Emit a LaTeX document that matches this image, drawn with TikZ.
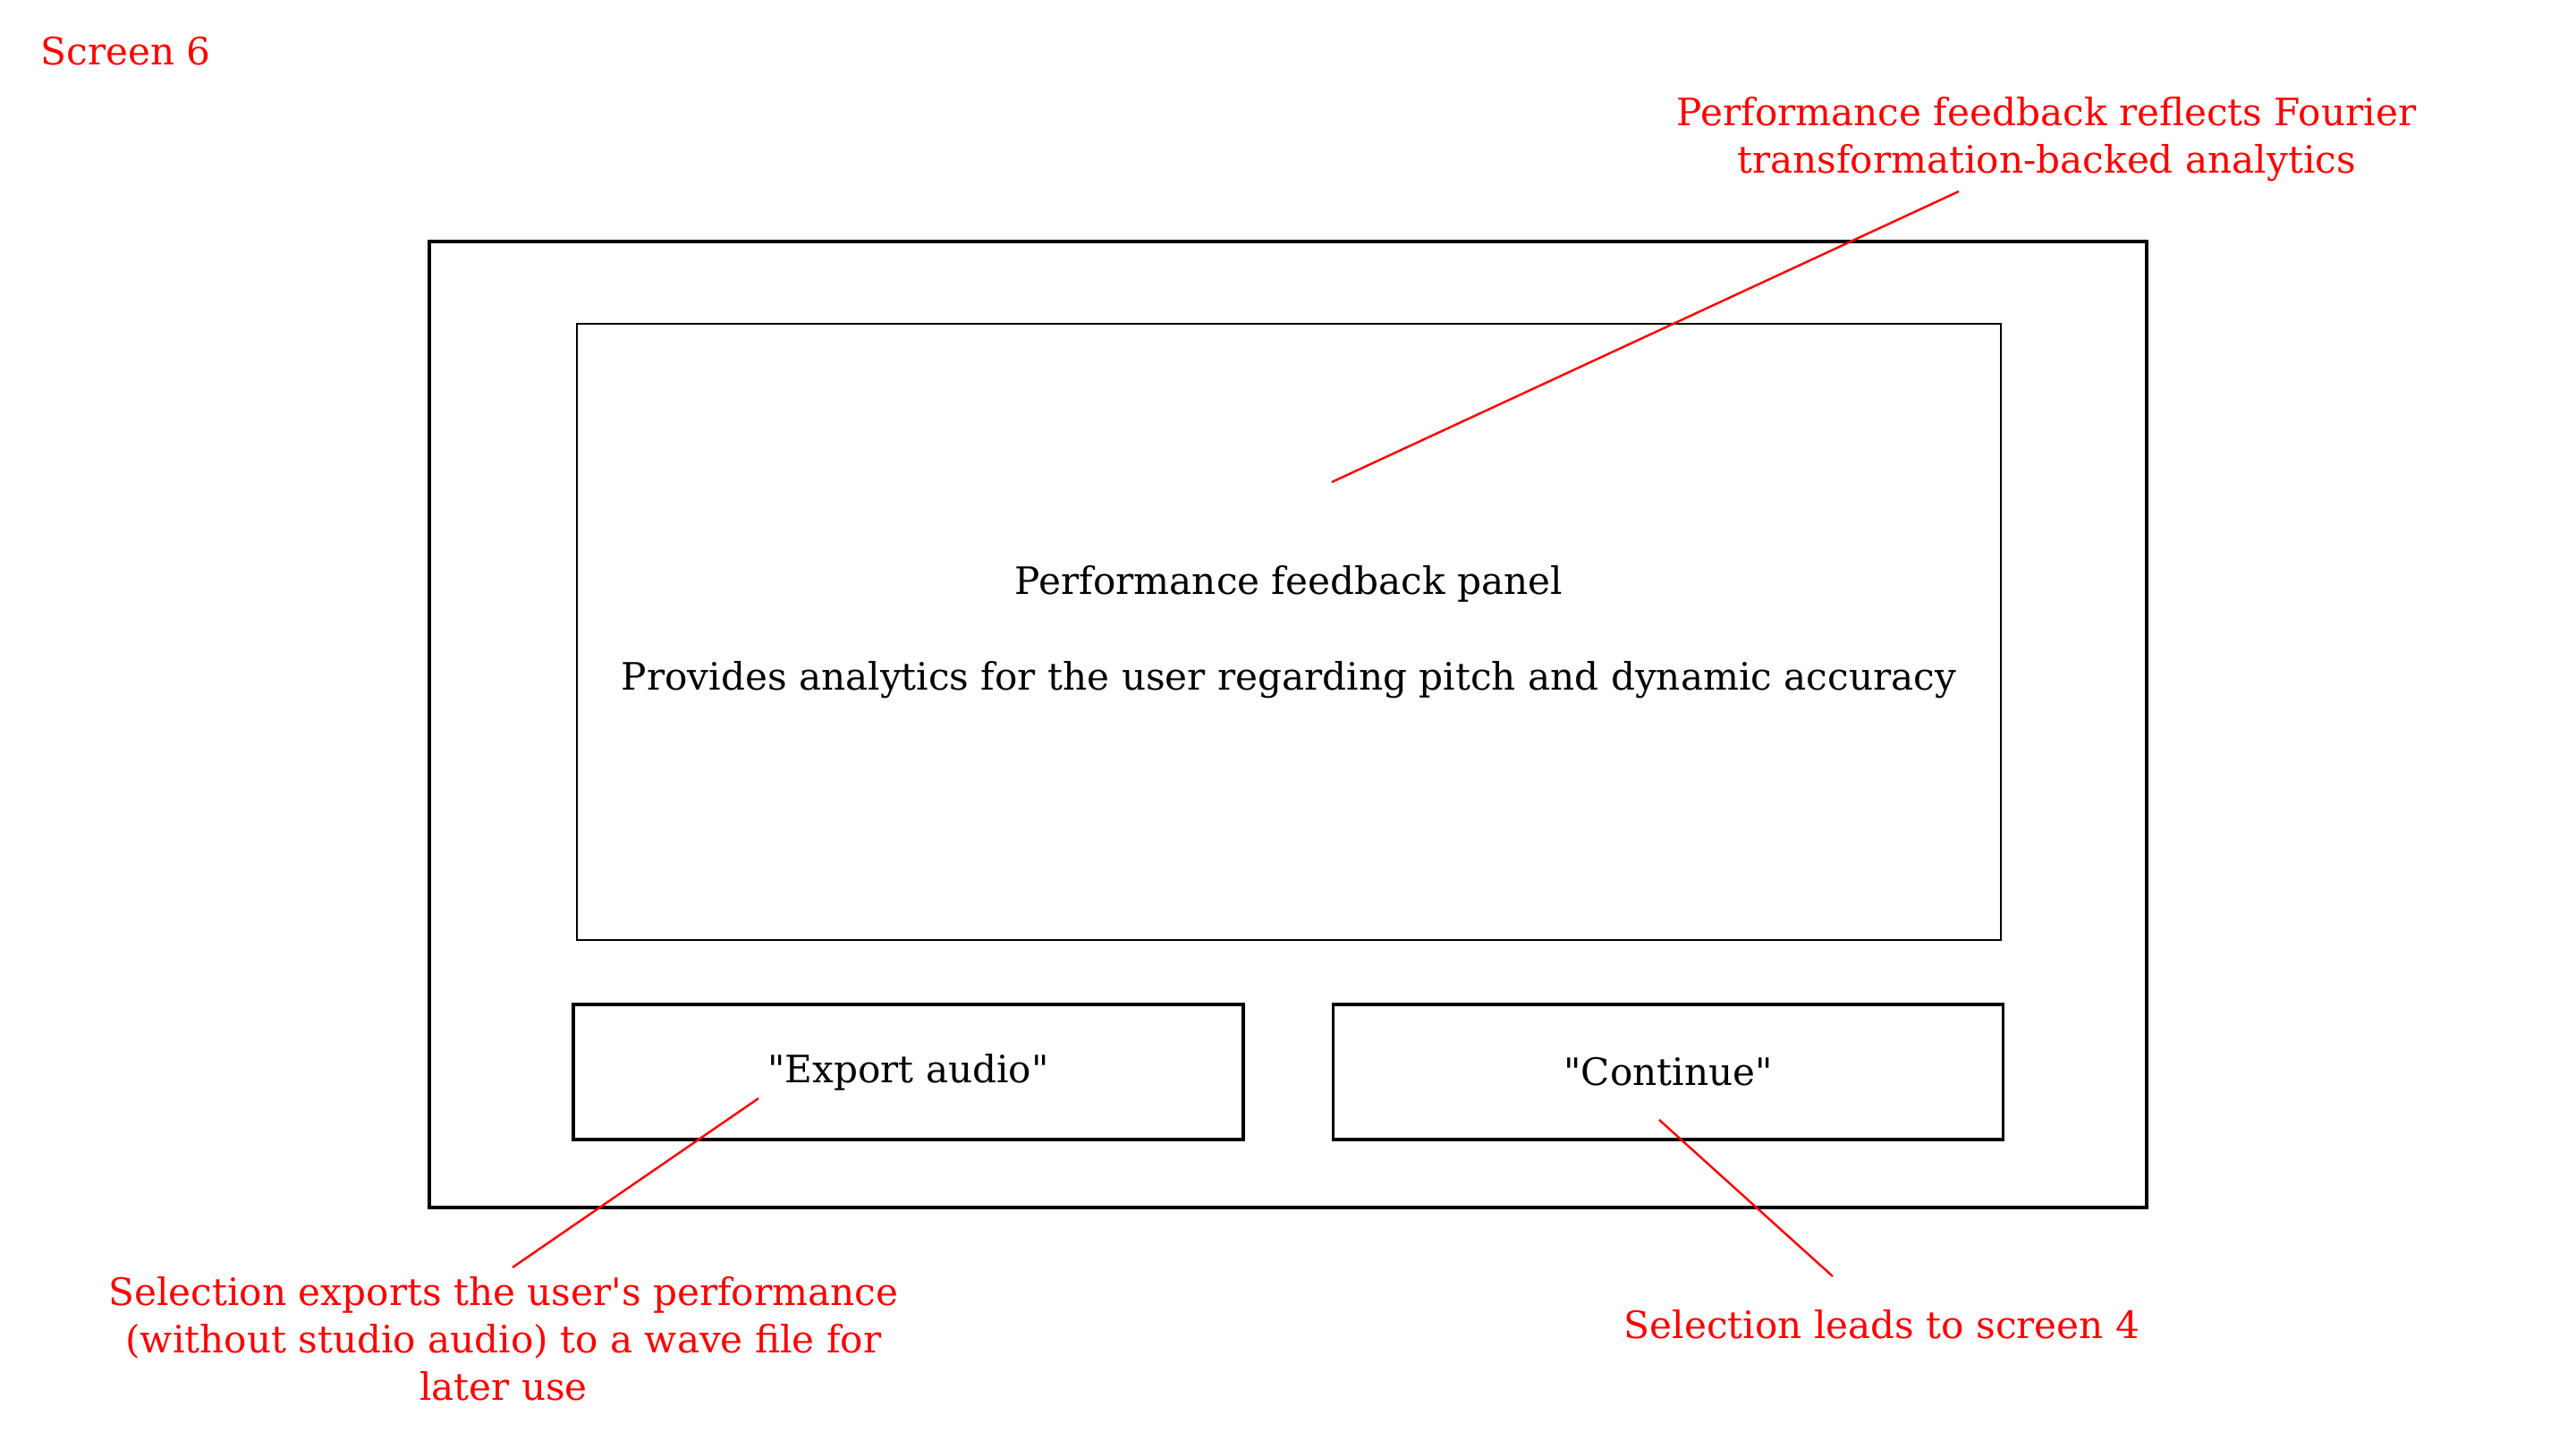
\documentclass[tikz,border=0pt]{standalone}
\usepackage{fontspec}
\newfontfamily\uifont{DejaVu Serif}
\usetikzlibrary{positioning}
\definecolor{notered}{RGB}{255,0,0}

\begin{document}
\begin{tikzpicture}[
  font=\uifont\fontsize{12}{15}\selectfont,
  frame/.style={draw,line width=1.1pt,inner sep=0pt},
  panelbox/.style={draw,line width=0.7pt,align=center},
  button/.style={draw,line width=0.95pt,minimum width=7.49cm,minimum height=1.51cm},
  note/.style={text=notered,align=center},
  pointer/.style={draw=notered,line width=0.7pt}
]
\useasboundingbox (0,0) rectangle (28.8,16.2);

% Screen label
\node[note,anchor=base west,inner sep=0pt] (title) at (0.45,15.47) {Screen 6};

% Outer screen
\node[frame,minimum width=19.20cm,minimum height=10.80cm] (screen) at (14.40,8.10) {};

% Feedback panel
\node[panelbox,minimum width=15.92cm,minimum height=6.89cm] (panel) at (14.41,9.135) {
Performance feedback panel\\[15.5pt]
Provides analytics for the user regarding pitch and dynamic accuracy
};

% Buttons
\node[button] (export) at (10.155,4.215) {"Export audio"};
\node[button] (continue) at (18.65,4.215) {"Continue"};

% Notes
\node[note] (fbnote) at (22.88,14.645) {
Performance feedback reflects Fourier\\
transformation-backed analytics
};
\node[note] (exportnote) at (5.63,1.23) {
Selection exports the user's performance\\
(without studio audio) to a wave file for\\
later use
};
\node[note,anchor=base] (contnote) at (21.04,1.23) {Selection leads to screen 4};

% Pointers
\coordinate (fbtail) at (21.90,14.06);
\coordinate (fbtip) at (14.89,10.81);
\coordinate (exporttail) at (5.73,2.03);
\coordinate (exporttip) at (8.48,3.92);
\coordinate (conttail) at (20.49,1.93);
\coordinate (conttip) at (18.55,3.68);

\draw[pointer] (fbtail) -- (fbtip);
\draw[pointer] (exporttail) -- (exporttip);
\draw[pointer] (conttail) -- (conttip);
\end{tikzpicture}
\end{document}
